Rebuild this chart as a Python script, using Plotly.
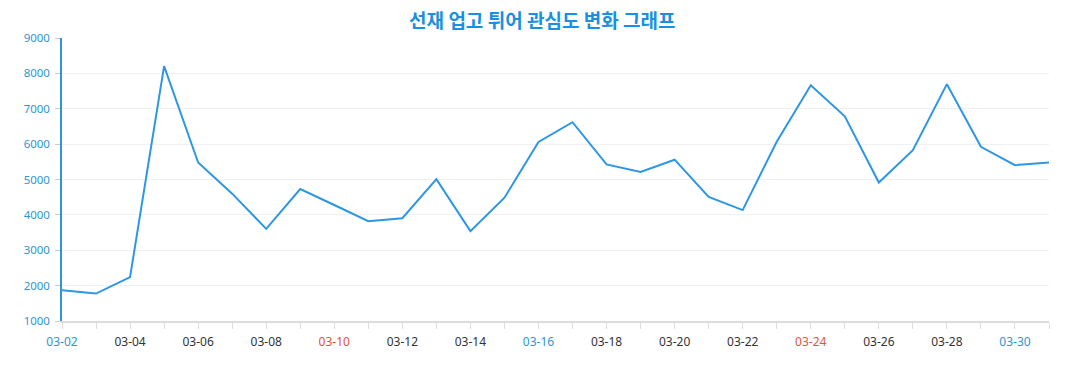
import plotly.graph_objects as go

dates = ["03-%02d" % d for d in range(2, 32)]
values = [1870, 1775, 2240, 8205, 5480, 4600, 3605, 4730, 4280, 3820,
          3905, 5010, 3540, 4485, 6060, 6620, 5425, 5215, 5560, 4510,
          4135, 6065, 7665, 6785, 4915, 5830, 7695, 5925, 5405, 5480]
title_text = "선재 업고 튀어 관심도 변화 그래프"
y_ticks = [1000, 2000, 3000, 4000, 5000, 6000, 7000, 8000, 9000]
blue_labels = ["03-02", "03-16", "03-30"]
red_labels = ["03-10", "03-24"]

def label(i, d):
    if i % 2 == 1:
        return ""
    if d in blue_labels:
        c = "#2f95d4"
    elif d in red_labels:
        c = "#e0553d"
    else:
        c = "#333333"
    return '<span style="color:%s">%s</span>' % (c, d)

ticktext = [label(i, d) for i, d in enumerate(dates)]

fig = go.Figure()
fig.add_trace(go.Scatter(
    x=dates, y=values, mode="lines",
    line=dict(color="#2d97e3", width=2),
    hoverinfo="x+y", showlegend=False,
))

fig.update_layout(
    width=1077, height=390,
    margin=dict(l=62, r=28, t=38, b=69),
    paper_bgcolor="white", plot_bgcolor="white",
    font=dict(family="Noto Sans, Noto Sans CJK KR, sans-serif", size=12),
    title=dict(
        text="<b>%s</b>" % title_text,
        x=0.5035, xanchor="center", y=0.946, yanchor="middle",
        font=dict(family="Noto Sans CJK KR, sans-serif", size=19, color="#1b8fe0"),
    ),
    xaxis=dict(
        type="category",
        tickmode="array", tickvals=dates, ticktext=ticktext,
        range=[0, len(dates) - 1],
        showgrid=False, zeroline=False,
        showline=True, linecolor="#dddddd", linewidth=2,
        ticks="outside", ticklen=6, tickcolor="#dddddd", tickwidth=1,
        tickfont=dict(size=12, color="#333333"),
        ticklabelstandoff=3,
        fixedrange=True,
    ),
    yaxis=dict(
        range=[1000, 9000], tickvals=y_ticks,
        showgrid=True, gridcolor="#f0f0f0", gridwidth=1,
        zeroline=False,
        showline=True, linecolor="#2f95d4", linewidth=1.5,
        ticks="outside", ticklen=5, tickcolor="#cccccc",
        tickfont=dict(size=11.5, color="#2f95d4"),
        ticklabelstandoff=3,
        fixedrange=True,
    ),
)

fig.write_html(
    "out.html",
    config={"displayModeBar": False},
    post_script="document.body.style.margin='0';",
)
